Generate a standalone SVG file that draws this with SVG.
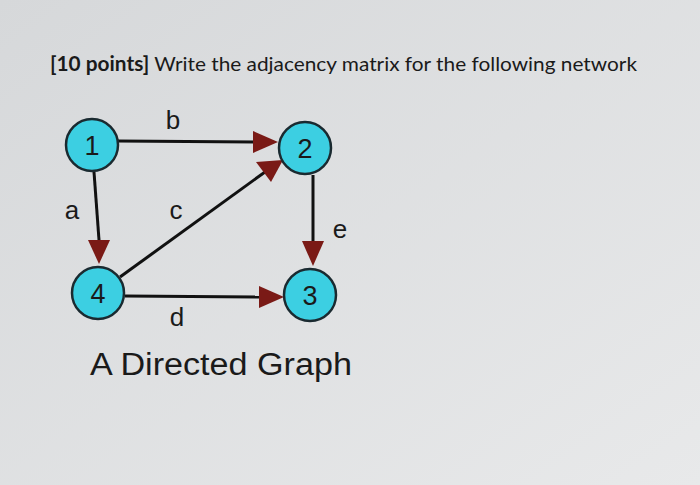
<svg xmlns="http://www.w3.org/2000/svg" width="700" height="485" viewBox="0 0 700 485">
<style>
.n{fill:#3ccfe2;stroke:#1a2a30;stroke-width:2.5}
.nt{font-family:"Liberation Sans",Arial,sans-serif;font-size:27px;fill:#1a1a1a;text-anchor:middle}
.l{font-family:"Liberation Sans",Arial,sans-serif;font-size:26px;fill:#1a1a1a;text-anchor:middle}
.e{stroke:#111;stroke-width:3;fill:none}
.h{fill:#7a1a16}
</style>
<defs>
<linearGradient id="bg" x1="0" y1="0" x2="1" y2="1"><stop offset="0" stop-color="#d6d8da"/><stop offset="1" stop-color="#e8e9ea"/></linearGradient>
</defs>
<rect width="700" height="485" fill="url(#bg)"/>
<text x="50" y="71" font-family="Lato,'Liberation Sans',sans-serif" font-size="20" fill="#1a1a1a" textLength="587" lengthAdjust="spacingAndGlyphs"><tspan font-weight="bold">[10 points]</tspan> Write the adjacency matrix for the following network</text>
<g id="connectors">
<path class="e" d="M94,172 L99,240"/><path class="h" d="M88,240 L110,240 L99,264 z"/>
<path class="e" d="M118,141 L255,142"/><path class="h" d="M253,131 L253,153 L278,142 z"/>
<path class="e" d="M120,277 L265,172"/><path class="h" d="M256,162 L271,182 L283,160 z"/>
<path class="e" d="M313,175 L313,243"/><path class="h" d="M302,241 L324,241 L313,266 z"/>
<path class="e" d="M125,296 L260,297"/><path class="h" d="M259,286 L259,308 L284,297 z"/>
</g>
<g id="node1"><circle class="n" cx="92" cy="145" r="26"/><text class="nt" x="92" y="155">1</text></g>
<g id="node2"><circle class="n" cx="305" cy="148" r="26"/><text class="nt" x="305" y="158">2</text></g>
<g id="node3"><circle class="n" cx="310" cy="295" r="26"/><text class="nt" x="310" y="305">3</text></g>
<g id="node4"><circle class="n" cx="98" cy="293" r="26"/><text class="nt" x="98" y="303">4</text></g>
<text class="l" x="173" y="129">b</text>
<text class="l" x="72" y="219">a</text>
<text class="l" x="176" y="219">c</text>
<text class="l" x="340" y="238">e</text>
<text class="l" x="177" y="326">d</text>
<text x="90" y="375" font-family="'Liberation Sans',Arial,sans-serif" font-size="31" fill="#1a1a1a" textLength="262" lengthAdjust="spacingAndGlyphs">A Directed Graph</text>
</svg>
